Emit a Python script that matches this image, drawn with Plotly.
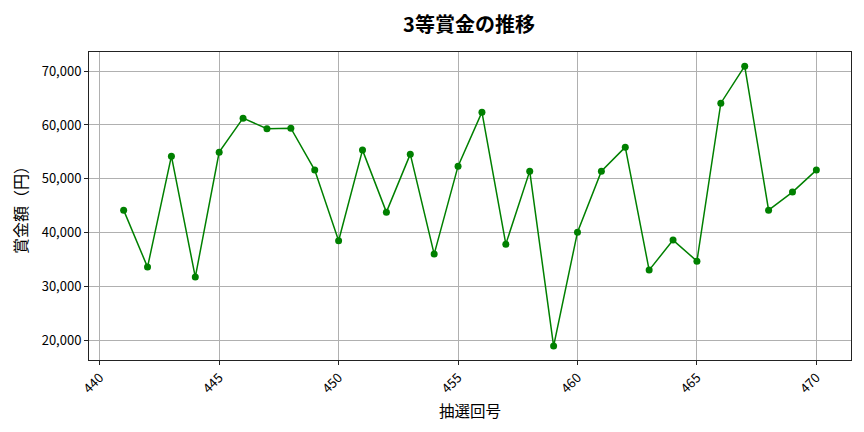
import plotly.graph_objects as go

# 抽選回号と3等賞金
draws = list(range(441, 471))
prize = [44160, 33570, 54200, 31710, 54940, 61260, 59280, 59400, 51600, 38460,
         55320, 43790, 54570, 35990, 52340, 62380, 37840, 51410, 18890, 40070,
         51410, 55870, 33010, 38590, 34680, 64050, 70930, 44160, 47510, 51600]

x_ticks = [440, 445, 450, 455, 460, 465, 470]
y_ticks = [20000, 30000, 40000, 50000, 60000, 70000]

font_family = "Noto Sans CJK JP"

fig = go.Figure()
fig.add_trace(go.Scatter(
    x=draws, y=prize,
    mode="lines+markers",
    line=dict(color="green", width=1.5),
    marker=dict(color="green", size=7),
    showlegend=False,
))

# page body adds ~8px offset, margins account for it
fig.update_layout(
    width=864, height=432,
    font=dict(family=font_family, size=13, color="black"),
    title=dict(text="<b>3等賞金の推移</b>", x=0.5336, xanchor="center",
               y=0.961, yanchor="middle", font=dict(size=20)),
    margin=dict(l=77, r=21, t=44, b=80),
    plot_bgcolor="white",
    paper_bgcolor="white",
)

fig.update_xaxes(
    range=[439.55, 471.45],
    tickvals=x_ticks,
    tickangle=-45,
    title=dict(text="抽選回号", font=dict(size=15.5), standoff=10),
    showgrid=True, gridcolor="#b0b0b0", gridwidth=0.8,
    showline=True, linecolor="#222", linewidth=1, mirror=True,
    ticks="outside", ticklen=4, tickcolor="#222",
    zeroline=False,
)
fig.update_yaxes(
    range=[16300, 73560],
    tickvals=y_ticks,
    tickformat=",d",
    title=dict(text="賞金額（円）", font=dict(size=16), standoff=10),
    showgrid=True, gridcolor="#b0b0b0", gridwidth=0.8,
    showline=True, linecolor="#222", linewidth=1, mirror=True,
    ticks="outside", ticklen=4, tickcolor="#222",
    zeroline=False,
)

fig.write_html("out.html")
